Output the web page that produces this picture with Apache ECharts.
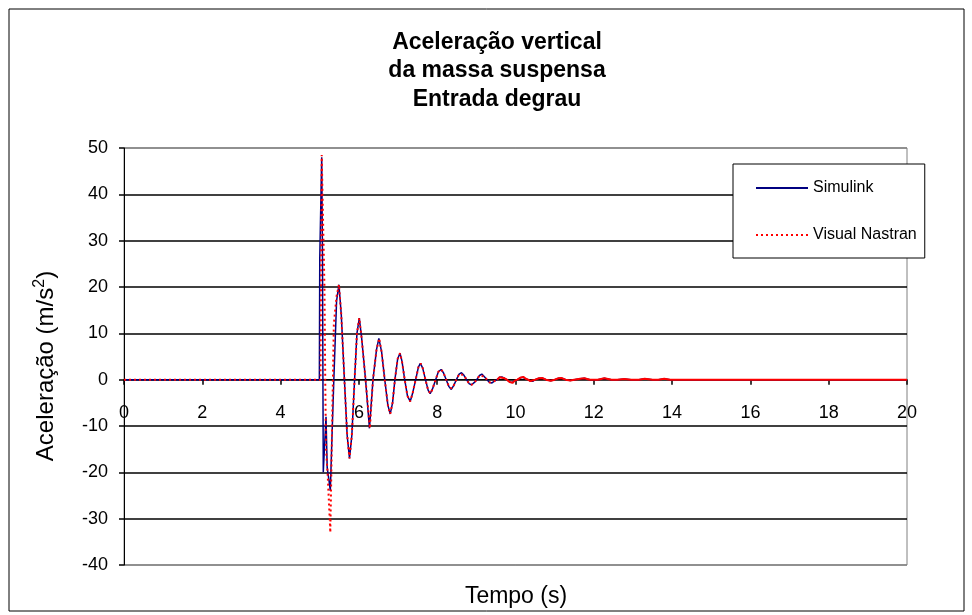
<!DOCTYPE html>
<html>
<head>
<meta charset="utf-8">
<script src="https://cdn.jsdelivr.net/npm/echarts@6/dist/echarts.min.js"></script>
<style>
  html, body { margin: 0; padding: 0; background: #fff; }
  #main { width: 972px; height: 615px; }
</style>
</head>
<body>
<div id="main"></div>
<script>
// tempo (s) e aceleração (m/s2)
var simT = [0, 4.99, 5.00, 5.03, 5.05, 5.07, 5.09, 5.13, 5.16, 5.19, 5.24, 5.27, 5.31, 5.36, 5.43, 5.49,
    5.55, 5.63, 5.70, 5.76, 5.82, 5.89, 5.95, 6.01, 6.07, 6.17, 6.27, 6.36, 6.45, 6.51, 6.58, 6.66,
    6.74, 6.80, 6.86, 6.92, 6.99, 7.05, 7.10, 7.17, 7.24, 7.31, 7.37, 7.45, 7.52, 7.57, 7.63, 7.70,
    7.77, 7.82, 7.88, 7.96, 8.03, 8.10, 8.16, 8.23, 8.30, 8.36, 8.42, 8.49, 8.56, 8.62, 8.68, 8.75,
    8.82, 8.88, 8.95, 9.01, 9.08, 9.14, 9.20, 9.27, 9.34, 9.40, 9.46, 9.53, 9.59, 9.65, 9.72, 9.78,
    9.85, 9.92, 9.98, 10.05, 10.12, 10.19, 10.26, 10.32, 10.38, 10.44, 10.50, 10.60, 10.68, 10.78,
    10.90, 11.00, 11.10, 11.17, 11.28, 11.40, 11.50, 11.65, 11.76, 11.90, 12.10, 12.27, 12.45, 12.60,
    12.78, 12.95, 13.15, 13.30, 13.50, 13.65, 13.80, 13.95, 20];
var simV = [0, 0, 26, 26, 48, 26, -20, -20, -8, -19, -22, -24, -13, 0, 17, 20.5,
    14, 0, -12, -17, -12, 0, 10, 13.3, 9, 0, -10.5, 0, 6.5, 8.9, 6, 0,
    -5.5, -7.4, -5, 0, 4.5, 5.7, 4, 0, -3.5, -4.7, -3, 0, 2.7, 3.5, 2.5, 0,
    -2.3, -3, -2, 0, 1.7, 2.2, 1.5, 0, -1.5, -2.1, -1.3, 0, 1.2, 1.5, 1, 0,
    -0.9, -1.1, -0.6, 0, 0.9, 1.2, 0.7, 0, -0.6, -0.7, -0.3, 0, 0.5, 0.6, 0.3, 0,
    -0.5, -0.6, -0.2, 0, 0.4, 0.5, 0.2, 0, -0.3, -0.35, 0, 0.3, 0.35, 0,
    -0.25, 0, 0.3, 0.35, 0, -0.2, 0, 0.2, 0.3, 0, 0, 0.3, 0, 0,
    0.15, 0, 0, 0.2, 0, 0, 0.2, 0, 0];

var nasT = [0, 5.02, 5.05, 5.12, 5.14, 5.16, 5.20, 5.27, 5.31, 5.36, 5.43, 5.49,
    5.55, 5.63, 5.70, 5.76, 5.82, 5.89, 5.95, 6.01, 6.07, 6.17, 6.28, 6.36, 6.45, 6.52, 6.58, 6.66,
    6.74, 6.80, 6.86, 6.92, 6.99, 7.05, 7.10, 7.17, 7.24, 7.31, 7.37, 7.45, 7.52, 7.58, 7.63, 7.70,
    7.77, 7.83, 7.88, 7.96, 8.03, 8.10, 8.16, 8.23, 8.30, 8.37, 8.42, 8.49, 8.56, 8.61, 8.68, 8.75,
    8.82, 8.88, 8.95, 9.01, 9.08, 9.12, 9.20, 9.27, 9.34, 9.38, 9.46, 9.53, 9.59, 9.63, 9.72, 9.78,
    9.85, 9.93, 9.98, 10.05, 10.12, 10.20, 10.26, 10.32, 10.38, 10.43, 10.50, 10.60, 10.68, 10.78,
    10.90, 11.00, 11.10, 11.17, 11.28, 11.40, 11.50, 11.65, 11.76, 11.90, 12.10, 12.27, 12.45, 12.60,
    12.78, 12.95, 13.15, 13.30, 13.50, 13.65, 13.80, 13.95, 20];
var nasV = [0, 0, 48.5, 20, 0, -15, -20, -33, -13, 12, 18, 20.5,
    14, 0, -12, -17, -12, 0, 10, 13.3, 9, 0, -10.5, 0, 6.5, 8.9, 6, 0,
    -5.5, -7.4, -5, 0, 4.5, 5.7, 4, 0, -3.5, -4.7, -3, 0, 2.7, 3.5, 2.5, 0,
    -2.3, -3, -2, 0, 1.7, 2.2, 1.5, 0, -1.5, -1.9, -1.3, 0, 1.2, 1.5, 1, 0,
    -0.9, -1.1, -0.6, 0, 0.9, 1.2, 0.7, 0, -0.6, -0.8, -0.3, 0, 0.5, 0.65, 0.3, 0,
    -0.5, -0.7, -0.2, 0, 0.4, 0.6, 0.2, 0, -0.3, -0.4, 0, 0.3, 0.35, 0,
    -0.25, 0, 0.3, 0.35, 0, -0.2, 0, 0.2, 0.3, 0, 0, 0.3, 0, 0,
    0.15, 0, 0, 0.2, 0, 0, 0.2, 0, 0];

var titleLines = ['Aceleração vertical', 'da massa suspensa', 'Entrada degrau'];
var seriesNames = ['Simulink', 'Visual Nastran'];
var yTicks = [-40, -30, -20, -10, 0, 10, 20, 30, 40, 50];

var FONT = '"Liberation Sans", Arial, sans-serif';

function pares(t, v) {
    var out = [];
    for (var i = 0; i < t.length; i++) {
        out.push([t[i], v[i]]);
    }
    return out;
}

var simData = pares(simT, simV);
var nasData = pares(nasT, nasV);
// no Excel a linha pontilhada fica cheia onde os pontos são densos (cauda)
var nasPont = nasData.filter(function(p) { return p[0] <= 9.53; });
var nasCheia = nasData.filter(function(p) { return p[0] >= 9.53; });

// grades: bordas (min/max) cinza, internas pretas
var gridColors = yTicks.map(function(v, i) {
    return (i === 0 || i === yTicks.length - 1) ? '#808080' : '#000';
});

var gridTop = 148, gridBottom = 50, chartH = 615;
var yMin = yTicks[0], yMax = yTicks[yTicks.length - 1];
// eixo x cruza em y = 0: desloca a partir da borda inferior do grid
var plotH = chartH - gridTop - gridBottom;
var xAxisOffset = -plotH * (0 - yMin) / (yMax - yMin);

var myChart = echarts.init(document.getElementById('main'));
var option = {
    animation: false,
    backgroundColor: '#fff',
    graphic: [
        {
            type: 'rect',
            silent: true,
            shape: { x: 9, y: 9, width: 955, height: 602 },
            style: { fill: 'none', stroke: '#000', lineWidth: 1 }
        },
        {
            type: 'text',
            x: 497,
            y: 28,
            style: {
                text: titleLines.join('\n'),
                align: 'center',
                verticalAlign: 'top',
                fontSize: 23,
                fontWeight: 'bold',
                fontFamily: FONT,
                lineHeight: 28.5,
                fill: '#000'
            }
        },
        {
            type: 'text',
            x: 46,
            y: 366,
            rotation: Math.PI / 2,
            style: {
                text: 'Aceleração (m/s{sup|2})',
                align: 'center',
                verticalAlign: 'middle',
                fontSize: 24,
                fontFamily: FONT,
                fill: '#000',
                rich: {
                    sup: { fontSize: 16, fontFamily: FONT, fill: '#000', padding: [0, 0, 13, 0] }
                }
            }
        },
        {
            type: 'text',
            x: 516,
            y: 597,
            style: {
                text: 'Tempo (s)',
                align: 'center',
                verticalAlign: 'middle',
                fontSize: 23,
                fontFamily: FONT,
                fill: '#000'
            }
        }
    ],
    legend: {
        data: seriesNames,
        orient: 'vertical',
        left: 733,
        top: 164,
        itemWidth: 52,
        itemHeight: 14,
        itemGap: 27,
        padding: [14, 8, 13, 22],
        borderColor: '#000',
        borderWidth: 1,
        backgroundColor: '#fff',
        itemStyle: { opacity: 0 },
        textStyle: { color: '#000', fontSize: 16, fontFamily: FONT, lineHeight: 20 }
    },
    grid: {
        left: 124,
        right: 65,
        top: gridTop,
        bottom: gridBottom,
        outerBoundsMode: 'none',
        containLabel: false,
        show: true,
        borderColor: '#808080',
        borderWidth: 1
    },
    xAxis: {
        type: 'value',
        position: 'bottom',
        offset: xAxisOffset,
        min: 0,
        max: 20,
        interval: 2,
        axisLine: { onZero: false, lineStyle: { color: '#000', width: 1 } },
        axisTick: { inside: false, length: 5, lineStyle: { color: '#000', width: 1.5 } },
        axisLabel: { margin: 24, color: '#000', fontSize: 18, fontFamily: FONT },
        splitLine: { show: false }
    },
    yAxis: {
        type: 'value',
        min: yMin,
        max: yMax,
        interval: 10,
        axisLine: { show: true, lineStyle: { color: '#000', width: 1 } },
        axisTick: { show: true, inside: false, length: 5, lineStyle: { color: '#000', width: 1.5 } },
        axisLabel: { margin: 16, color: '#000', fontSize: 18, fontFamily: FONT },
        splitLine: { show: true, lineStyle: { color: gridColors, width: 1.5 } }
    },
    series: [
        {
            name: seriesNames[0],
            type: 'line',
            data: simData,
            symbol: 'none',
            lineStyle: { color: '#000080', width: 1.5 },
            itemStyle: { color: '#000080' },
            z: 2
        },
        {
            name: seriesNames[1],
            type: 'line',
            data: nasPont,
            symbol: 'none',
            lineStyle: { color: '#ff0000', width: 2, type: [2, 3] },
            itemStyle: { color: '#ff0000' },
            z: 3
        },
        {
            name: seriesNames[1],
            type: 'line',
            data: nasCheia,
            symbol: 'none',
            lineStyle: { color: '#ff0000', width: 2 },
            itemStyle: { color: '#ff0000' },
            z: 3
        }
    ]
};
myChart.setOption(option);
</script>
</body>
</html>
